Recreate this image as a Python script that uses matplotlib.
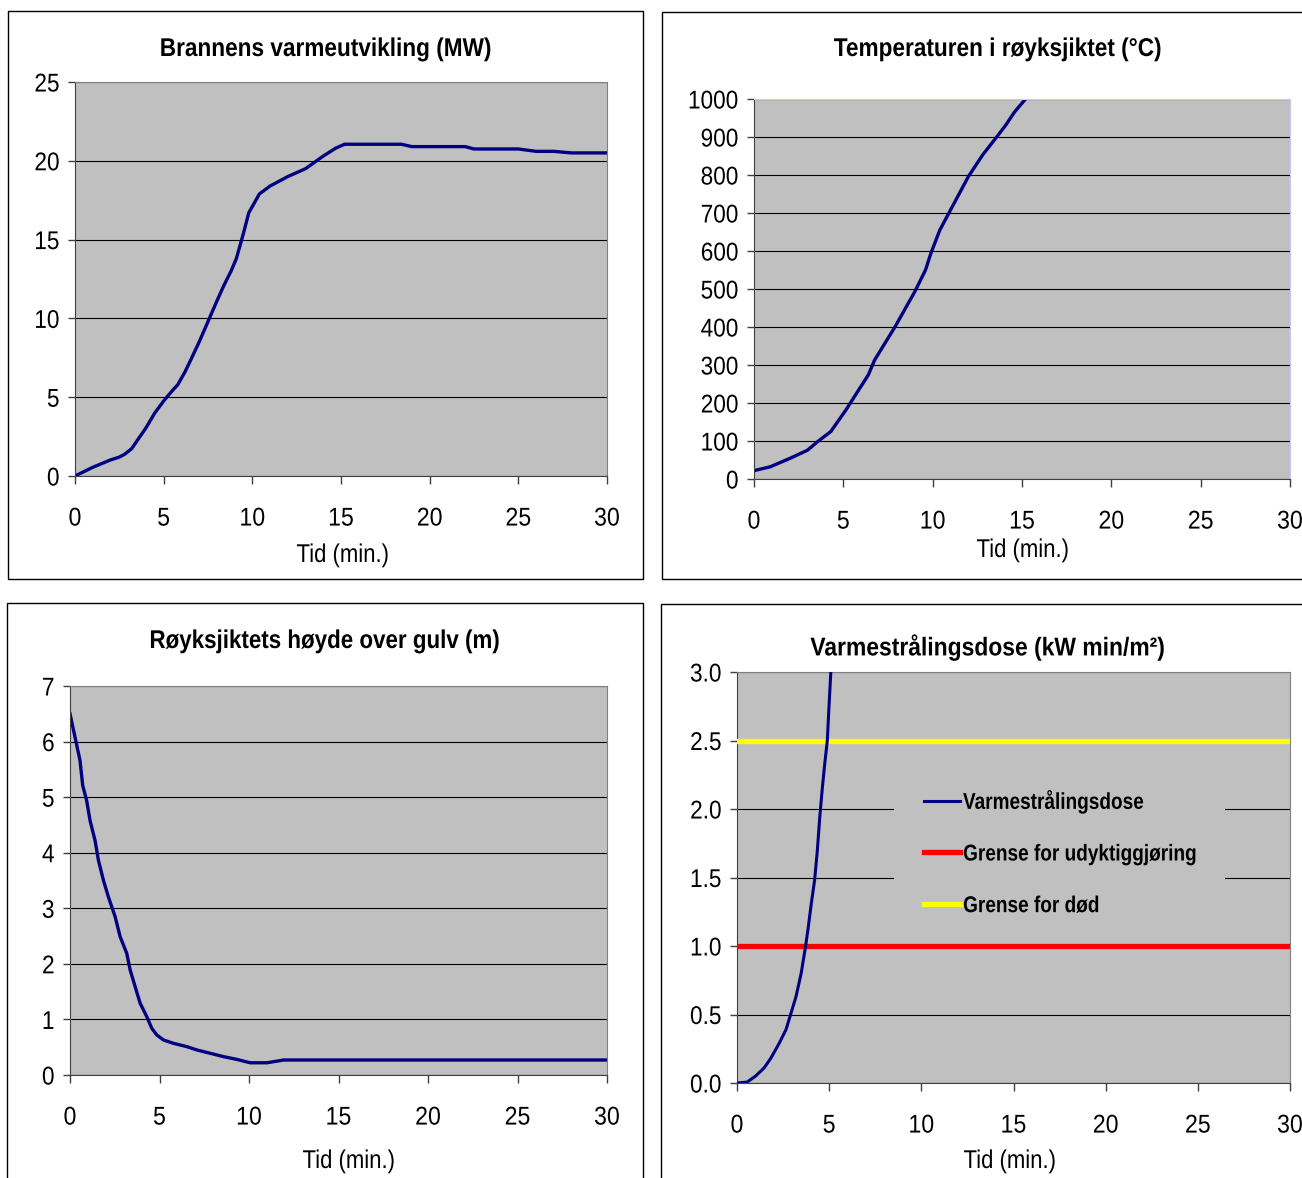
import matplotlib
matplotlib.use("Agg")
import matplotlib.pyplot as plt
from matplotlib import font_manager
from matplotlib.patches import Rectangle
from matplotlib.patheffects import AbstractPathEffect
from matplotlib.transforms import Affine2D

# data
hr_t = [0, 1, 2, 2.5, 2.8, 3.2, 3.6, 4.0, 4.5, 5.0, 5.4, 5.8, 6.2, 6.5, 7.0, 7.5, 8.0,
        8.4, 8.8, 9.1, 9.5, 9.8, 10.0, 10.4, 11.0, 11.5, 12.0, 13.0, 13.5, 14.0, 14.7,
        15.2, 18.4, 19.0, 22.0, 22.5, 25.0, 26.0, 27.0, 28.0, 30.0]
hr_mw = [0, 0.55, 1.02, 1.2, 1.38, 1.74, 2.4, 3.05, 4.0, 4.76, 5.3, 5.8, 6.6, 7.3, 8.5,
         9.8, 11.1, 12.1, 13.0, 13.8, 15.4, 16.7, 17.1, 17.9, 18.4, 18.7, 19.0, 19.5,
         19.9, 20.3, 20.8, 21.05, 21.05, 20.9, 20.9, 20.75, 20.75, 20.6, 20.6, 20.5, 20.5]

temp_t = [0, 0.9, 2.0, 3.0, 3.5, 4.3, 5.15, 5.8, 6.4, 6.75, 7.9, 9.0, 9.6, 9.9, 10.4,
          11.0, 11.5, 12.0, 12.8, 13.6, 14.1, 14.6, 15.2, 15.6]
temp_c = [22, 32, 54, 76, 96, 125, 182, 230, 274, 313, 401, 493, 550, 594, 655, 708,
          752, 796, 853, 901, 932, 967, 1000, 1025]

layer_t = [0, 0.28, 0.56, 0.71, 0.93, 1.12, 1.4, 1.59, 1.87, 2.15, 2.52, 2.8, 3.17, 3.36,
           3.64, 3.92, 4.29, 4.57, 4.85, 5.22, 5.78, 6.53, 7.09, 7.84, 8.58, 9.33, 10.07,
           11.0, 11.94, 30]
layer_h = [6.50, 6.08, 5.66, 5.21, 4.94, 4.58, 4.22, 3.86, 3.5, 3.2, 2.85, 2.49, 2.19,
           1.89, 1.59, 1.29, 1.05, 0.84, 0.72, 0.63, 0.57, 0.51, 0.45, 0.39, 0.33, 0.28,
           0.22, 0.22, 0.27, 0.27]

dose_t = [0, 0.55, 1.0, 1.47, 1.83, 2.29, 2.66, 2.93, 3.2, 3.48, 3.7, 3.85, 4.03, 4.21,
          4.36, 4.49, 4.62, 4.76, 4.9, 4.98, 5.09]
dose = [0, 0.007, 0.05, 0.11, 0.18, 0.29, 0.39, 0.51, 0.63, 0.80, 0.98, 1.12, 1.31, 1.48,
        1.70, 1.94, 2.14, 2.33, 2.50, 2.72, 3.0]
limit_t = [0, 30]
limit_injury = [1.0, 1.0]
limit_death = [2.5, 2.5]

names = {f.name for f in font_manager.fontManager.ttflist}
family = "Liberation Sans Narrow" if "Liberation Sans Narrow" in names else "Liberation Sans"
plt.rcParams["font.family"] = [family, "DejaVu Sans"]


class Condense(AbstractPathEffect):
    # squeeze text horizontally, the original uses a tight, narrow face
    def __init__(self, sx, anchor="center"):
        super().__init__()
        self.sx = sx
        self.anchor = anchor

    def draw_path(self, renderer, gc, tpath, affine, rgbFace=None):
        ext = tpath.get_extents()
        if self.anchor == "left":
            x0 = ext.x0
        elif self.anchor == "right":
            x0 = ext.x1
        else:
            x0 = (ext.x0 + ext.x1) / 2
        squeeze = Affine2D().translate(-x0, 0).scale(self.sx, 1).translate(x0, 0)
        renderer.draw_path(gc, tpath, squeeze + affine, rgbFace)


W, H = 1302, 1178
fig = plt.figure(figsize=(W / 100, H / 100), dpi=100)


def px_axes(x0, y0, x1, y1):
    # pixel box (top-left origin) -> axes
    return fig.add_axes([x0 / W, 1 - y1 / H, (x1 - x0) / W, (y1 - y0) / H])


def px_rect(x0, y0, x1, y1, **kw):
    return Rectangle((x0 / W, 1 - y1 / H), (x1 - x0) / W, (y1 - y0) / H,
                     transform=fig.transFigure, **kw)


def frame(x0, y0, x1, y1):
    fig.patches.append(px_rect(x0, y0, x1, y1, fill=False, edgecolor="black",
                               linewidth=1.0))


def label(x, y, s, bold=False, size=18.5, sx=0.86):
    fig.text(x / W, 1 - y / H, s, ha="center", va="center", fontsize=size,
             fontweight="bold" if bold else "normal", path_effects=[Condense(sx)])


def style(ax, ymax, ystep, fmt=None, edge="#808080"):
    ax.set_facecolor("#c0c0c0")
    ax.set_xlim(0, 30)
    ax.set_ylim(0, ymax)
    ax.set_xticks(range(0, 31, 5))
    n = int(round(ymax / ystep))
    ticks = [i * ystep for i in range(n + 1)]
    ax.set_yticks(ticks)
    if fmt:
        ax.set_yticklabels([fmt.format(v) for v in ticks])
    ax.grid(axis="y", color="black", linewidth=0.8)
    ax.set_axisbelow(True)
    ax.tick_params(axis="x", length=6, width=1, pad=16, labelsize=18.5, color="#404040")
    ax.tick_params(axis="y", length=5, width=1, pad=6, labelsize=18.5, color="#404040")
    for lab in ax.get_xticklabels():
        lab.set_path_effects([Condense(0.9)])
    for lab in ax.get_yticklabels():
        lab.set_path_effects([Condense(0.88, "right")])
    for s in ["left", "bottom"]:
        ax.spines[s].set_color("#404040")
    for s in ["top", "right"]:
        ax.spines[s].set_color(edge)


frame(8, 11, 643, 579)
frame(662, 12, 1340, 579)
frame(7, 603, 643, 1220)
frame(661, 604, 1340, 1220)

# top left
ax1 = px_axes(75, 82, 607, 476)
style(ax1, 25, 5)
ax1.plot(hr_t, hr_mw, color="#000080", linewidth=2.4)
label(326, 49, "Brannens varmeutvikling (MW)", bold=True, sx=0.88)
label(343, 555, "Tid (min.)")

# top right
ax2 = px_axes(754, 99, 1290, 479)
style(ax2, 1000, 100, edge="#c8c8f0")
ax2.plot(temp_t, temp_c, color="#000080", linewidth=2.4)
label(998, 49, "Temperaturen i røyksjiktet (°C)", bold=True, sx=0.88)
label(1023, 550, "Tid (min.)")

# bottom left
ax3 = px_axes(70, 686, 607, 1075)
style(ax3, 7, 1)
ax3.plot(layer_t, layer_h, color="#000080", linewidth=2.4)
label(325, 641, "Røyksjiktets høyde over gulv (m)", bold=True, sx=0.87)
label(349, 1161, "Tid (min.)")

# bottom right
ax4 = px_axes(737, 672, 1290, 1083)
style(ax4, 3.0, 0.5, fmt="{:.1f}")
ax4.plot(dose_t, dose, color="#000080", linewidth=2.2, label="Varmestrålingsdose", zorder=4)
ax4.plot(limit_t, limit_injury, color="#ff0000", linewidth=3.8,
         label="Grense for udyktiggjøring", zorder=3)
ax4.plot(limit_t, limit_death, color="#ffff00", linewidth=3.8, label="Grense for død",
         zorder=3)
# legend box: plain grey, hides the gridlines behind it
ax4.add_patch(px_rect(894, 765, 1225, 940, facecolor="#c0c0c0", edgecolor="none",
                      zorder=2.5))
leg = ax4.legend(loc="center left", bbox_to_anchor=(924 / W, 1 - 853 / H),
                 bbox_transform=fig.transFigure, frameon=False, borderaxespad=0,
                 prop={"family": [family, "DejaVu Sans"], "weight": "bold", "size": 16.5},
                 borderpad=0, handlelength=1.57, handletextpad=0.13, labelspacing=1.25)
leg.set_zorder(5)
for t in leg.get_texts():
    t.set_path_effects([Condense(0.83, "left")])
label(988, 647, "Varmestrålingsdose (kW min/m²)", bold=True, sx=0.89)
label(1010, 1161, "Tid (min.)")

fig.savefig("out.png", dpi=100)
